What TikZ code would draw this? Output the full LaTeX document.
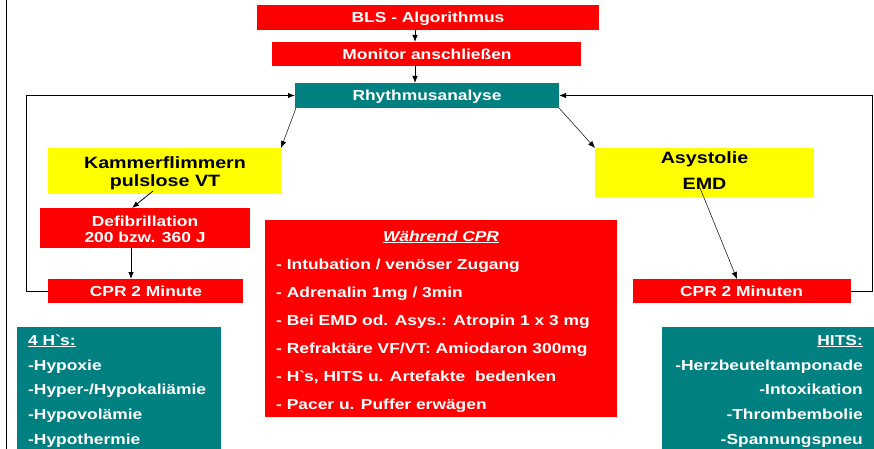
\documentclass[tikz,border=0pt]{standalone}
\usepackage{fontspec}
\setmainfont{Liberation Sans}[FakeStretch=1.2]
\usetikzlibrary{arrows.meta,calc}
\definecolor{bred}{HTML}{FF0000}
\definecolor{byel}{HTML}{FFFF00}
\definecolor{bteal}{HTML}{008080}
\begin{document}
\begin{tikzpicture}[x=1pt,y=-1pt,
  box/.style={draw=none,inner sep=0pt,outer sep=0pt,anchor=north west},
  redbox/.style={box,fill=bred},
  yelbox/.style={box,fill=byel},
  tealbox/.style={box,fill=bteal},
  wt/.style={text=white,font=\bfseries\fontsize{14.5}{16}\selectfont,inner sep=0pt,anchor=base},
  wl/.style={wt,anchor=base west},
  wr/.style={wt,anchor=base east},
  yt/.style={text=black,font=\bfseries\fontsize{16.4}{18}\selectfont,inner sep=0pt,anchor=base},
  arr/.style={-{Latex[length=7pt,width=5.5pt]},line width=0.8pt},
  tarr/.style={-{Latex[length=7pt,width=5.5pt]},line width=0.5pt},
  loopline/.style={-{Latex[length=7pt,width=5.5pt]},line width=1pt}]
\useasboundingbox (0,0) rectangle (874,449);
\fill[white] (0,0) rectangle (874,449);
% frame line
\draw[line width=1pt] (6,0) -- (6,449);
% boxes
\node[redbox,minimum width=342pt,minimum height=25pt] (bls) at (257,5) {};
\node[redbox,minimum width=309pt,minimum height=24pt] (mon) at (272,42) {};
\node[tealbox,minimum width=264pt,minimum height=25pt] (rhy) at (295,83) {};
\node[yelbox,minimum width=233pt,minimum height=46pt] (kam) at (48,148) {};
\node[yelbox,minimum width=219pt,minimum height=49pt] (asy) at (595,148) {};
\node[redbox,minimum width=210pt,minimum height=40pt] (def) at (40,208) {};
\node[redbox,minimum width=195pt,minimum height=24pt] (cprl) at (48,279) {};
\node[redbox,minimum width=218pt,minimum height=24pt] (cprr) at (633,279) {};
\node[redbox,minimum width=352pt,minimum height=197pt] (mid) at (265,220) {};
\node[tealbox,minimum width=204pt,minimum height=130pt] (hh) at (17,327) {};
\node[tealbox,minimum width=212pt,minimum height=130pt] (hits) at (662,327) {};
% texts
\node[wt] (tbls) at (428,23) {BLS - Algorithmus};
\node[wt] (tmon) at (427,59.5) {Monitor anschließen};
\node[wt] (trhy) at (427,100.5) {Rhythmusanalyse};
\node[yt] (tkam1) at (165,168) {Kammerflimmern};
\node[yt] (tkam2) at (165,186) {pulslose VT};
\node[yt] (tasy1) at (704.5,164) {Asystolie};
\node[yt] (tasy2) at (704.5,189) {EMD};
\node[wt] (tdef1) at (145,226) {Defibrillation};
\node[wt] (tdef2) at (145,242) {200 bzw. 360 J};
\node[wt] (tcprl) at (146,296) {CPR 2 Minute};
\node[wt] (tcprr) at (741.5,296) {CPR 2 Minuten};
% middle box
\node[wt] (mtitle) at (441,241) {\itshape\underline{Während CPR}};
\node[wl] (m1) at (276,269) {- Intubation / venöser Zugang};
\node[wl] (m2) at (276,297) {- Adrenalin 1mg / 3min};
\node[wl] (m3) at (276,325) {- Bei EMD od. Asys.: Atropin 1 x 3 mg};
\node[wl] (m4) at (276,353) {- Refraktäre VF/VT: Amiodaron 300mg};
\node[wl] (m5) at (276,381) {- H\textasciigrave s, HITS u. Artefakte\ \ bedenken};
\node[wl] (m6) at (276,409) {- Pacer u. Puffer erwägen};
% 4 H's
\node[wl] (h0) at (28,345) {\underline{4 H\textasciigrave s:}};
\node[wl] (h1) at (28,370) {-Hypoxie};
\node[wl] (h2) at (28,394.5) {-Hyper-/Hypokaliämie};
\node[wl] (h3) at (28,419.5) {-Hypovolämie};
\node[wl] (h4) at (28,444) {-Hypothermie};
% HITS
\node[wr] (s0) at (863,345) {\underline{HITS:}};
\node[wr] (s1) at (863,370) {-Herzbeuteltamponade};
\node[wr] (s2) at (863,394.5) {-Intoxikation};
\node[wr] (s3) at (863,419.5) {-Thrombembolie};
\node[wr] (s4) at (863,444) {-Spannungspneu};
% connectors
\draw[arr] ([xshift=-13pt]bls.south) -- ([xshift=-13pt]bls.south |- mon.north);
\draw[arr] ([xshift=-11.5pt]mon.south) -- ([xshift=-11.5pt]mon.south |- rhy.north);
\draw[tarr] ([xshift=1pt]rhy.south west) -- (kam.north east);
\draw[tarr] (rhy.south east) -- (asy.north west);
\coordinate (k1) at (153,191);
\draw[arr] (k1) -- ([xshift=-13pt]def.north);
\draw[arr] ([xshift=-14pt]def.south) -- ([xshift=-14pt]def.south |- cprl.north);
\coordinate (a1) at (700,188);
\draw[tarr] (a1) -- ([xshift=-5pt]cprr.north);
\coordinate (ll) at (26,95.5);
\coordinate (rr) at (872,95.5);
\draw[loopline] (cprl.west) -| (ll) -- (rhy.west);
\draw[loopline] (cprr.east) -| (rr) -- (rhy.east);
\end{tikzpicture}
\end{document}
